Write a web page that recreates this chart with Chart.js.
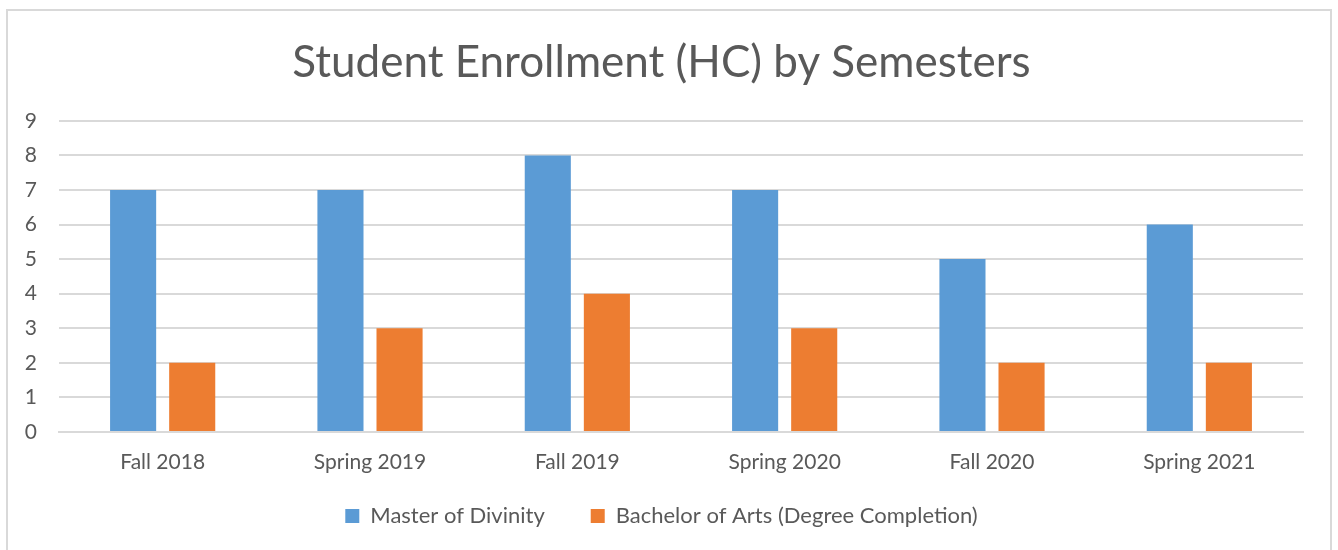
<!DOCTYPE html>
<html lang="en">
<head>
    <meta charset="UTF-8">
    <title>Student Enrollment (HC) by Semesters</title>
    <script src="https://cdn.jsdelivr.net/npm/chart.js"></script>
    <style>
        html, body { margin: 0; padding: 0; background: #fff; }
        #frame {
            position: absolute; left: 6px; top: 9px;
            width: 1326px; height: 600px;
            border: 2px solid #d9d9d9;
            box-sizing: border-box;
        }
        #wrap { position: absolute; left: 0; top: 0; width: 1338px; height: 550px; }
    </style>
</head>
<body>
    <div id="frame"></div>
    <div id="wrap"><canvas id="enrollChart"></canvas></div>

    <script>
        const semesters = ['Fall 2018', 'Spring 2019', 'Fall 2019', 'Spring 2020', 'Fall 2020', 'Spring 2021'];
        const masterOfDivinity = [7, 7, 8, 7, 5, 6];
        const bachelorOfArts = [2, 3, 4, 3, 2, 2];
        const yTicks = [0, 1, 2, 3, 4, 5, 6, 7, 8, 9];

        const font = 'Lato, "Open Sans", sans-serif';
        const grey = '#595959';

        // legend padding is wide (for the gap between items), so squash its box
        // and stretch its top back up so the text sits where it should
        const legendTweak = {
            id: 'legendTweak',
            beforeLayout(chart) {
                const lg = chart.legend;
                if (lg && !lg._patched) {
                    const fit = lg.fit.bind(lg);
                    lg.fit = function () { fit(); this.height = 40; };
                    lg._patched = true;
                }
            },
            afterLayout(chart) {
                chart.legend.top -= 38;
                chart.legend.height += 38;
            }
        };

        const ctx = document.getElementById('enrollChart').getContext('2d');
        new Chart(ctx, {
            type: 'bar',
            data: {
                labels: semesters,
                datasets: [{
                    label: 'Master of Divinity',
                    data: masterOfDivinity,
                    backgroundColor: '#5B9BD5',
                    barPercentage: 0.78,
                    categoryPercentage: 0.57
                }, {
                    label: 'Bachelor of Arts (Degree Completion)',
                    data: bachelorOfArts,
                    backgroundColor: '#ED7D31',
                    barPercentage: 0.78,
                    categoryPercentage: 0.57
                }]
            },
            options: {
                responsive: true,
                maintainAspectRatio: false,
                animation: false,
                layout: { padding: { left: 20, right: 35, top: 0, bottom: 13 } },
                plugins: {
                    title: {
                        display: true,
                        text: 'Student Enrollment (HC) by Semesters',
                        color: grey,
                        font: { family: font, size: 44, weight: 'normal' },
                        padding: { top: 36, bottom: 32 }
                    },
                    legend: {
                        position: 'bottom',
                        labels: {
                            color: grey,
                            font: { family: font, size: 22 },
                            boxWidth: 14,
                            boxHeight: 14,
                            padding: 46
                        }
                    },
                    tooltip: { enabled: false }
                },
                scales: {
                    x: {
                        grid: { display: false },
                        border: { color: '#d9d9d9', width: 2 },
                        ticks: { color: grey, font: { family: font, size: 21 }, padding: 10 },
                        afterFit: s => { s.height = 65; }
                    },
                    y: {
                        min: 0,
                        max: 9,
                        afterBuildTicks: s => { s.ticks = yTicks.map(v => ({ value: v })); },
                        grid: { color: '#d9d9d9', lineWidth: 2, drawTicks: false },
                        border: { display: false },
                        ticks: { color: grey, font: { family: font, size: 21 }, padding: 22 },
                        afterFit: s => { s.width = 39; }
                    }
                }
            },
            plugins: [legendTweak]
        });
    </script>
</body>
</html>
